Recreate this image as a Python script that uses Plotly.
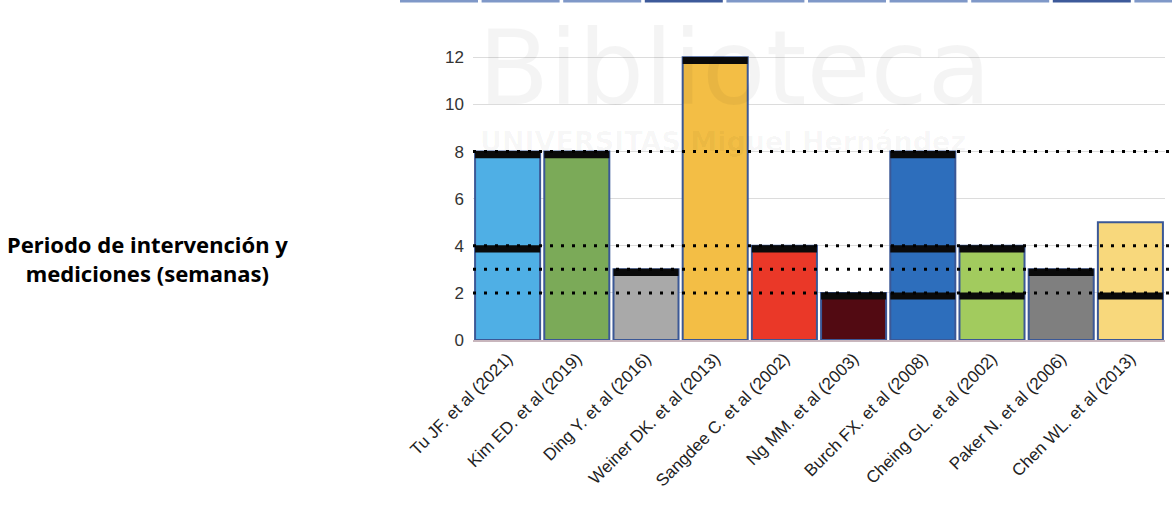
import plotly.graph_objects as go

categories = ["Tu JF. et al (2021)", "Kim ED. et al (2019)", "Ding Y. et al (2016)",
              "Weiner DK. et al (2013)", "Sangdee C. et al (2002)", "Ng MM. et al (2003)",
              "Burch FX. et al (2008)", "Cheing GL. et al (2002)", "Paker N. et al (2006)",
              "Chen WL. et al (2013)"]
durations = [8, 8, 3, 12, 4, 2, 8, 4, 3, 5]
measurements = [[4, 8], [8], [3], [12], [4], [2], [2, 4, 8], [2, 4], [3], [2]]
reference_levels = [2, 3, 4, 8]
bar_colors = ["#4FAFE5", "#7BAA58", "#A9A9A9", "#F3BE45", "#EA3828", "#520A12",
              "#2D6EBC", "#A2CB5E", "#7F7F7F", "#F8D87C"]
y_ticks = [0, 2, 4, 6, 8, 10, 12]

W, H = 1172, 505
L, R, T, B = 473, 7, 55, 165
pw, ph = W - L - R, H - T - B


def px_x(p):
    return (p - L) / pw


def px_y(p):
    return (H - B - p) / ph


fig = go.Figure()
fig.add_trace(go.Bar(
    x=categories, y=durations,
    marker=dict(color=bar_colors, line=dict(color="#3B5896", width=2)),
    showlegend=False,
))

band_h = 0.3
mx, mb = [], []
for cat, ms in zip(categories, measurements):
    for m in ms:
        mx.append(cat)
        mb.append(m - 0.28)
fig.add_trace(go.Bar(
    x=mx, y=[band_h] * len(mx), base=mb,
    marker=dict(color="#0a0a0a", line=dict(width=0)),
    showlegend=False,
))

for lvl in reference_levels:
    fig.add_shape(type="line", xref="paper", yref="y", x0=0, x1=1.011, y0=lvl, y1=lvl,
                  line=dict(color="black", width=3, dash="3px,8px"), layer="above")

# cropped table border strip at the very top of the page
for i in range(10):
    x0 = 400 + i * 81.6
    x1 = min(x0 + 78, W)
    col = "#3d5a9a" if i in (3, 8) else "#7f98c8"
    fig.add_shape(type="rect", xref="paper", yref="paper",
                  x0=px_x(x0), x1=px_x(x1), y0=px_y(2.5), y1=px_y(0),
                  line=dict(width=0), fillcolor=col, layer="above")

# faint watermark
fig.add_annotation(text="Biblioteca", xref="paper", yref="paper", x=px_x(476), y=px_y(5),
                   xanchor="left", yanchor="top", showarrow=False,
                   font=dict(size=104, color="rgba(0,0,0,0.045)", family="DejaVu Sans"))
fig.add_annotation(text="<b>UNIVERSITAS Miguel Hernández</b>", xref="paper", yref="paper",
                   x=px_x(478), y=px_y(124), xanchor="left", yanchor="top", showarrow=False,
                   font=dict(size=27, color="rgba(0,0,0,0.035)", family="DejaVu Sans"))

fig.add_annotation(text="<b>Periodo de intervención y<br>mediciones (semanas)</b>",
                   xref="paper", yref="paper", x=px_x(147), y=px_y(258), xanchor="center",
                   yanchor="middle", showarrow=False, align="center",
                   font=dict(size=22, color="black", family="Noto Sans"))

fig.update_layout(
    width=W, height=H,
    margin=dict(l=L, r=R, t=T, b=B),
    paper_bgcolor="white", plot_bgcolor="white",
    barmode="overlay", bargap=0.06,
    xaxis=dict(tickangle=-45, tickfont=dict(size=17, color="#222", family="Liberation Sans"),
               showline=True, linecolor="#c8b6bd", linewidth=2, ticks=""),
    yaxis=dict(range=[0, 12.1], tickvals=y_ticks, showgrid=True, gridcolor="#dcdcdc",
               gridwidth=1, zeroline=False, tickfont=dict(size=17, color="#333", family="Liberation Sans"),
               ticks="", ticklabelstandoff=8),
)

fig.write_html("out.html")
